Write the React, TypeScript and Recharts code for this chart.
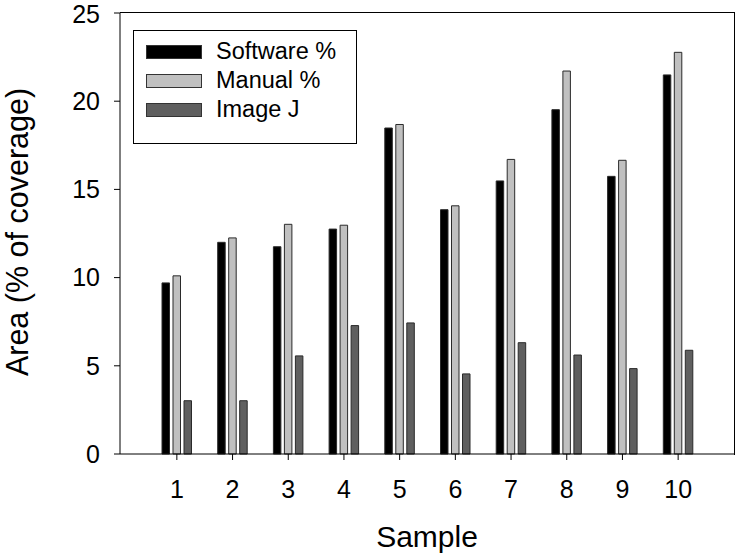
import { BarChart, Bar, XAxis, YAxis } from 'recharts';

const SAMPLES = ['1', '2', '3', '4', '5', '6', '7', '8', '9', '10'];
const SOFTWARE = [9.7, 12.0, 11.75, 12.75, 18.48, 13.85, 15.48, 19.52, 15.74, 21.49];
const MANUAL = [10.1, 12.25, 13.02, 12.97, 18.68, 14.07, 16.7, 21.71, 16.65, 22.77];
const IMAGE_J = [3.02, 3.02, 5.56, 7.28, 7.43, 4.54, 6.31, 5.61, 4.84, 5.88];
const Y_TICKS = [0, 5, 10, 15, 20, 25];

const SERIES = [
  { key: 'software', name: 'Software %', color: '#000000' },
  { key: 'manual', name: 'Manual %', color: '#c0c0c0' },
  { key: 'imagej', name: 'Image J', color: '#5f5f5f' },
];

const FONT = '"Liberation Sans", Arial, sans-serif';

const data = SAMPLES.map((s, i) => ({
  sample: s,
  software: SOFTWARE[i],
  manual: MANUAL[i],
  imagej: IMAGE_J[i],
}));

function LegendBox() {
  return (
    <div
      style={{
        position: 'absolute',
        left: 133,
        top: 30,
        width: 222,
        height: 106,
        border: '1px solid #000',
        background: '#fff',
        paddingTop: 6,
      }}
    >
      {SERIES.map((s) => (
        <div
          key={s.key}
          style={{ display: 'flex', alignItems: 'center', height: 29, fontFamily: FONT, fontSize: 23.5 }}
        >
          <span
            style={{
              display: 'inline-block',
              width: 54,
              height: 12,
              marginLeft: 12,
              marginRight: 14,
              background: s.color,
              border: '1px solid #333',
            }}
          />
          <span style={{ color: '#000' }}>{s.name}</span>
        </div>
      ))}
    </div>
  );
}

export default function App() {
  return (
    <div style={{ position: 'absolute', left: 0, top: 0, width: 738, height: 558, background: '#fff' }}>
      <BarChart
        width={738}
        height={558}
        data={data}
        margin={{ top: 13, right: 4, bottom: 0, left: 0 }}
        barSize={7.5}
        barGap={3.5}
      >
        <XAxis
          dataKey="sample"
          height={104}
          padding={{ left: 29, right: 28 }}
          stroke="#000"
          tickSize={6}
          tickMargin={20}
          tick={{ fill: '#000', fontSize: 25, fontFamily: FONT }}
          interval={0}
          label={{
            content: () => (
              <text x={427} y={547} textAnchor="middle" fontFamily={FONT} fontSize={30} fill="#000">
                Sample
              </text>
            ),
          }}
        />
        <YAxis
          width={120}
          domain={[0, 25]}
          ticks={Y_TICKS}
          stroke="#000"
          tickSize={6}
          tickMargin={14}
          tick={{ fill: '#000', fontSize: 25, fontFamily: FONT }}
          label={{
            content: () => (
              <text
                x={28}
                y={232}
                transform="rotate(-90, 28, 232)"
                textAnchor="middle"
                fontFamily={FONT}
                fontSize={30.5}
                fill="#000"
              >
                Area (% of coverage)
              </text>
            ),
          }}
        />
        {SERIES.map((s) => (
          <Bar
            key={s.key}
            dataKey={s.key}
            name={s.name}
            fill={s.color}
            stroke="#2a2a2a"
            strokeWidth={1}
            isAnimationActive={false}
          />
        ))}
      </BarChart>
      {/* frame: top and right edges of the plot box */}
      <div
        style={{
          position: 'absolute',
          left: 120,
          top: 12,
          width: 614,
          height: 442,
          borderTop: '1px solid #000',
          borderRight: '1px solid #000',
          pointerEvents: 'none',
        }}
      />
      <LegendBox />
    </div>
  );
}
